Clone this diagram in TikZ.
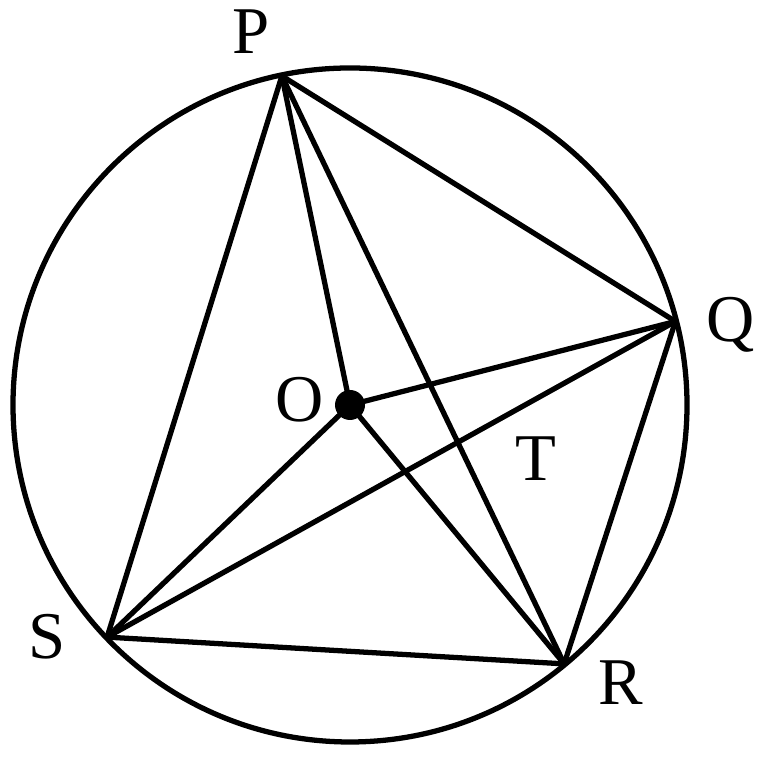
\documentclass[tikz,border=0pt]{standalone}
\usepackage{fontspec}
\setmainfont{Liberation Serif}
\usetikzlibrary{calc}
\tikzset{chord/.style={line width=1.5pt,line join=round},
  lbl/.style={font=\fontsize{19}{19}\selectfont,inner sep=0pt}}

\begin{document}
\begin{tikzpicture}
      \useasboundingbox (0,0) rectangle (7.62,7.60);
      \coordinate (O) at (3.50,3.55);
      \draw[chord] (O) circle (3.37);
      \coordinate (P) at ($(O)+(101.7:3.36)$);
      \coordinate (Q) at ($(O)+(14.4:3.36)$);
      \coordinate (R) at ($(O)+(-50.4:3.36)$);
      \coordinate (S) at ($(O)+(223.7:3.36)$);
      \draw[chord] (P) -- (Q) -- (R) -- (S) -- cycle;
        \draw[chord] (P) -- (R);
        \draw[chord] (Q) -- (S);
          \draw[chord] (P) -- (O);
          \draw[chord] (Q) -- (O);
          \draw[chord] (S) -- (O);
          \draw[chord] (R) -- (O);
      \fill (O) circle (0.15);
      \node[lbl] (lP) at (2.51,7.28) {P};
      \node[lbl] (lQ) at (7.31,4.35) {Q};
      \node[lbl] (lR) at (6.21,0.77) {R};
      \node[lbl] (lS) at (0.47,1.23) {S};
      \node[lbl] (lO) at (3.00,3.60) {O};
      \node[lbl] (lT) at (5.36,3.01) {T};
    \end{tikzpicture}
\end{document}
